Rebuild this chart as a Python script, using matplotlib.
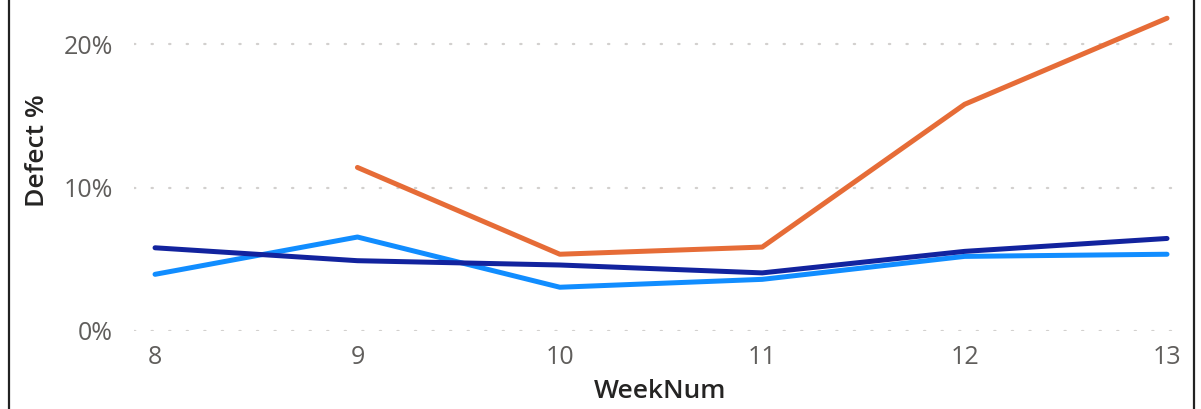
import matplotlib
matplotlib.use("Agg")
import matplotlib.pyplot as plt
from matplotlib.lines import Line2D
from matplotlib.ticker import FuncFormatter

# values (Defect % by week)
weeks = [8, 9, 10, 11, 12, 13]
orange_weeks = [9, 10, 11, 12, 13]
orange_vals = [11.4, 5.35, 5.85, 15.8, 21.8]
navy_vals = [5.8, 4.9, 4.6, 4.05, 5.55, 6.45]
blue_vals = [3.95, 6.55, 3.05, 3.6, 5.2, 5.35]

plt.rcParams["font.family"] = ["Open Sans", "DejaVu Sans"]

fig = plt.figure(figsize=(12.01, 4.09), dpi=100)
ax = fig.add_axes([134 / 1201, 78 / 409, (1183 - 134) / 1201, 331 / 409])

ax.plot(weeks, blue_vals, color="#118DFF", lw=3.6, solid_capstyle="round", clip_on=False, zorder=3)
ax.plot(weeks, navy_vals, color="#12239E", lw=3.6, solid_capstyle="round", clip_on=False, zorder=4)
ax.plot(orange_weeks, orange_vals, color="#E66C37", lw=3.6, solid_capstyle="round", clip_on=False, zorder=5)

ax.set_xlim(7.896, 13.079)
ax.set_ylim(0, 23.07)
ax.set_xticks(weeks)
ax.set_yticks([0, 10, 20])
ax.yaxis.set_major_formatter(FuncFormatter(lambda v, p: "%d%%" % v))

for y in [0, 10, 20]:
    ax.axhline(y, color="#D2D0CE", lw=1.6, linestyle=(0, (0.6, 7.3)), dash_capstyle="round", zorder=1)

for s in ax.spines.values():
    s.set_visible(False)
ax.tick_params(length=0, labelsize=18, colors="#605E5C")
ax.tick_params(axis="y", pad=15)
ax.tick_params(axis="x", pad=10)

fig.text(38 / 1201, 1 - 151 / 409, "Defect %", rotation=90, ha="center", va="center",
         fontsize=19, fontweight="semibold", color="#252423")
fig.text(660 / 1201, 1 - 392 / 409, "WeekNum", ha="center", va="center",
         fontsize=19, fontweight="semibold", color="#252423")

# frame edges seen on the left and right of the visual
fig.add_artist(Line2D([9 / 1201, 9 / 1201], [0, 1], color="#222222", lw=1.6))
fig.add_artist(Line2D([1194 / 1201, 1194 / 1201], [0, 1], color="#222222", lw=1.6))

fig.savefig("out.png", dpi=100)
